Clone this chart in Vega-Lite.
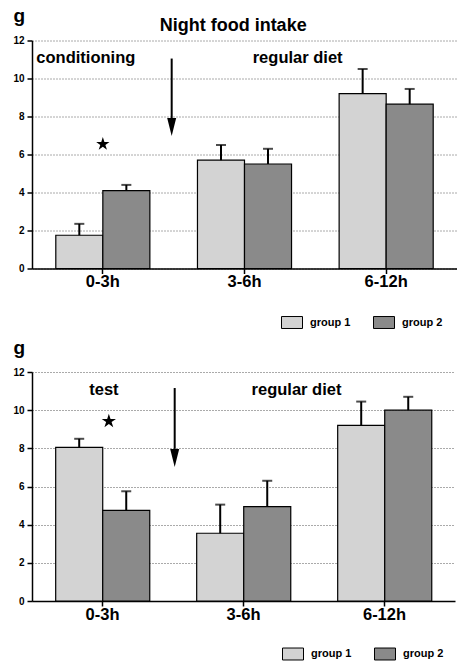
{
  "$schema": "https://vega.github.io/schema/vega-lite/v6.json",
  "padding": {"left": 12, "top": 6.5, "right": 0, "bottom": 0},
  "background": "white",
  "config": {
    "font": "Liberation Sans",
    "view": {"stroke": null},
    "axisY": {
      "titleAngle": 0, "titleAlign": "left", "titleBaseline": "alphabetic",
      "titleX": -19, "titleY": -19, "titleFontSize": 19, "titleFontWeight": "bold", "titleColor": "black",
      "labelFontSize": 10, "labelFontWeight": "bold", "labelColor": "black", "labelPadding": 3,
      "tickSize": 5, "tickColor": "black", "tickWidth": 1.5, "tickCount": 6,
      "domainColor": "black", "domainWidth": 1.5,
      "grid": true, "gridColor": "#555", "gridDash": [1, 2], "gridWidth": 1
    },
    "axisX": {
      "labelFontSize": 16.5, "labelFontWeight": "bold", "labelColor": "black", "labelAngle": 0, "labelPadding": 0,
      "tickSize": 5, "tickColor": "black", "tickWidth": 1.5,
      "domainColor": "black", "domainWidth": 1.5, "grid": false
    },
    "legend": {
      "orient": "none", "direction": "horizontal", "title": null,
      "symbolType": "M-1,-0.57H1V0.57H-1Z", "symbolSize": 441,
      "symbolStrokeColor": "black", "symbolStrokeWidth": 1,
      "labelFontSize": 11, "labelFontWeight": "bold", "labelColor": "black",
      "labelOffset": 7, "columnPadding": 20
    }
  },
  "datasets": {
    "topBars": [
      {"period": "0-3h", "group": "group 1", "mean": 1.75, "upper": 2.35},
      {"period": "0-3h", "group": "group 2", "mean": 4.1, "upper": 4.4},
      {"period": "3-6h", "group": "group 1", "mean": 5.7, "upper": 6.5},
      {"period": "3-6h", "group": "group 2", "mean": 5.5, "upper": 6.3},
      {"period": "6-12h", "group": "group 1", "mean": 9.2, "upper": 10.5},
      {"period": "6-12h", "group": "group 2", "mean": 8.65, "upper": 9.45}
    ],
    "bottomBars": [
      {"period": "0-3h", "group": "group 1", "mean": 8.05, "upper": 8.5},
      {"period": "0-3h", "group": "group 2", "mean": 4.75, "upper": 5.75},
      {"period": "3-6h", "group": "group 1", "mean": 3.55, "upper": 5.05},
      {"period": "3-6h", "group": "group 2", "mean": 4.95, "upper": 6.3},
      {"period": "6-12h", "group": "group 1", "mean": 9.2, "upper": 10.45},
      {"period": "6-12h", "group": "group 2", "mean": 10.0, "upper": 10.7}
    ],
    "topText": [
      {"label": "conditioning", "x": 0.38, "y": 10.84},
      {"label": "regular diet", "x": 1.875, "y": 10.84}
    ],
    "topTitle": [{"label": "Night food intake", "x": 1.42, "y": 12.49}],
    "topStar": [{"x": 0.5, "y": 6.55}],
    "topArrow": [{"x": 0.986, "y": 11.05, "y2": 7.9, "head": 7.45}],
    "bottomText": [
      {"label": "test", "x": 0.51, "y": 10.81},
      {"label": "regular diet", "x": 1.876, "y": 10.79}
    ],
    "bottomStar": [{"x": 0.545, "y": 9.42}],
    "bottomArrow": [{"x": 1.012, "y": 11.16, "y2": 7.97, "head": 7.5}]
  },
  "resolve": {"legend": {"fill": "independent"}, "scale": {"fill": "independent"}},
  "spacing": 7.5,
  "vconcat": [
    {
      "width": 425,
      "height": 228,
      "resolve": {"scale": {"x": "independent"}, "axis": {"x": "independent"}},
      "layer": [
        {
          "data": {"name": "topBars"},
          "encoding": {
            "x": {"field": "period", "type": "nominal", "title": null, "sort": ["0-3h", "3-6h", "6-12h"], "scale": {"paddingInner": 0.336, "paddingOuter": 0.168}},
            "xOffset": {"field": "group", "type": "nominal", "scale": {"paddingInner": 0, "paddingOuter": 0}}
          },
          "layer": [
            {
              "mark": {"type": "bar", "stroke": "black", "strokeWidth": 1.2},
              "encoding": {
                "y": {"field": "mean", "type": "quantitative", "title": "g", "scale": {"domain": [0, 12], "nice": false}},
                "fill": {"field": "group", "type": "nominal", "scale": {"domain": ["group 1", "group 2"], "range": ["#d3d3d3", "#8a8a8a"]}, "legend": {"legendX": 249, "legendY": 271}}
              }
            },
            {
              "mark": {"type": "rule", "color": "black", "strokeWidth": 2},
              "encoding": {
                "y": {"field": "mean", "type": "quantitative", "title": "g"},
                "y2": {"field": "upper"}
              }
            },
            {
              "mark": {"type": "tick", "orient": "horizontal", "color": "black", "size": 10, "thickness": 2},
              "encoding": {
                "y": {"field": "upper", "type": "quantitative", "title": "g"}
              }
            }
          ]
        },
        {
          "data": {"name": "topText"},
          "mark": {"type": "text", "fontSize": 16.5, "fontWeight": "bold", "color": "black", "align": "center", "baseline": "alphabetic"},
          "encoding": {
            "x": {"field": "x", "type": "quantitative", "axis": null, "scale": {"domain": [0, 3], "nice": false, "zero": false}},
            "y": {"field": "y", "type": "quantitative", "title": "g"},
            "text": {"field": "label"}
          }
        },
        {
          "data": {"name": "topTitle"},
          "mark": {"type": "text", "fontSize": 18, "fontWeight": "bold", "color": "black", "align": "center", "baseline": "alphabetic"},
          "encoding": {
            "x": {"field": "x", "type": "quantitative", "axis": null, "scale": {"domain": [0, 3], "nice": false, "zero": false}},
            "y": {"field": "y", "type": "quantitative", "title": "g"},
            "text": {"field": "label"}
          }
        },
        {
          "data": {"name": "topStar"},
          "mark": {"type": "point", "filled": true, "color": "black", "opacity": 1, "size": 196, "shape": "M0,-1L0.225,-0.309L0.951,-0.309L0.363,0.118L0.588,0.809L0,0.382L-0.588,0.809L-0.363,0.118L-0.951,-0.309L-0.225,-0.309Z"},
          "encoding": {
            "x": {"field": "x", "type": "quantitative", "axis": null, "scale": {"domain": [0, 3], "nice": false, "zero": false}},
            "y": {"field": "y", "type": "quantitative", "title": "g"}
          }
        },
        {
          "data": {"name": "topArrow"},
          "mark": {"type": "rule", "color": "black", "strokeWidth": 2},
          "encoding": {
            "x": {"field": "x", "type": "quantitative", "axis": null, "scale": {"domain": [0, 3], "nice": false, "zero": false}},
            "y": {"field": "y", "type": "quantitative", "title": "g"},
            "y2": {"field": "y2"}
          }
        },
        {
          "data": {"name": "topArrow"},
          "mark": {"type": "point", "filled": true, "color": "black", "opacity": 1, "size": 324, "shape": "M-0.5,-1L0.5,-1L0,1Z"},
          "encoding": {
            "x": {"field": "x", "type": "quantitative", "axis": null, "scale": {"domain": [0, 3], "nice": false, "zero": false}},
            "y": {"field": "head", "type": "quantitative", "title": "g"}
          }
        }
      ]
    },
    {
      "width": 423,
      "height": 229,
      "resolve": {"scale": {"x": "independent"}, "axis": {"x": "independent"}},
      "layer": [
        {
          "data": {"name": "bottomBars"},
          "encoding": {
            "x": {"field": "period", "type": "nominal", "title": null, "sort": ["0-3h", "3-6h", "6-12h"], "scale": {"paddingInner": 0.336, "paddingOuter": 0.168}},
            "xOffset": {"field": "group", "type": "nominal", "scale": {"paddingInner": 0, "paddingOuter": 0}}
          },
          "layer": [
            {
              "mark": {"type": "bar", "stroke": "black", "strokeWidth": 1.2},
              "encoding": {
                "y": {"field": "mean", "type": "quantitative", "title": "g", "scale": {"domain": [0, 12], "nice": false}},
                "fill": {"field": "group", "type": "nominal", "scale": {"domain": ["group 1", "group 2"], "range": ["#d3d3d3", "#8a8a8a"]}, "legend": {"legendX": 250, "legendY": 271}}
              }
            },
            {
              "mark": {"type": "rule", "color": "black", "strokeWidth": 2},
              "encoding": {
                "y": {"field": "mean", "type": "quantitative", "title": "g"},
                "y2": {"field": "upper"}
              }
            },
            {
              "mark": {"type": "tick", "orient": "horizontal", "color": "black", "size": 10, "thickness": 2},
              "encoding": {
                "y": {"field": "upper", "type": "quantitative", "title": "g"}
              }
            }
          ]
        },
        {
          "data": {"name": "bottomText"},
          "mark": {"type": "text", "fontSize": 16.5, "fontWeight": "bold", "color": "black", "align": "center", "baseline": "alphabetic"},
          "encoding": {
            "x": {"field": "x", "type": "quantitative", "axis": null, "scale": {"domain": [0, 3], "nice": false, "zero": false}},
            "y": {"field": "y", "type": "quantitative", "title": "g"},
            "text": {"field": "label"}
          }
        },
        {
          "data": {"name": "bottomStar"},
          "mark": {"type": "point", "filled": true, "color": "black", "opacity": 1, "size": 225, "shape": "M0,-1L0.225,-0.309L0.951,-0.309L0.363,0.118L0.588,0.809L0,0.382L-0.588,0.809L-0.363,0.118L-0.951,-0.309L-0.225,-0.309Z"},
          "encoding": {
            "x": {"field": "x", "type": "quantitative", "axis": null, "scale": {"domain": [0, 3], "nice": false, "zero": false}},
            "y": {"field": "y", "type": "quantitative", "title": "g"}
          }
        },
        {
          "data": {"name": "bottomArrow"},
          "mark": {"type": "rule", "color": "black", "strokeWidth": 2},
          "encoding": {
            "x": {"field": "x", "type": "quantitative", "axis": null, "scale": {"domain": [0, 3], "nice": false, "zero": false}},
            "y": {"field": "y", "type": "quantitative", "title": "g"},
            "y2": {"field": "y2"}
          }
        },
        {
          "data": {"name": "bottomArrow"},
          "mark": {"type": "point", "filled": true, "color": "black", "opacity": 1, "size": 324, "shape": "M-0.5,-1L0.5,-1L0,1Z"},
          "encoding": {
            "x": {"field": "x", "type": "quantitative", "axis": null, "scale": {"domain": [0, 3], "nice": false, "zero": false}},
            "y": {"field": "head", "type": "quantitative", "title": "g"}
          }
        }
      ]
    }
  ]
}
